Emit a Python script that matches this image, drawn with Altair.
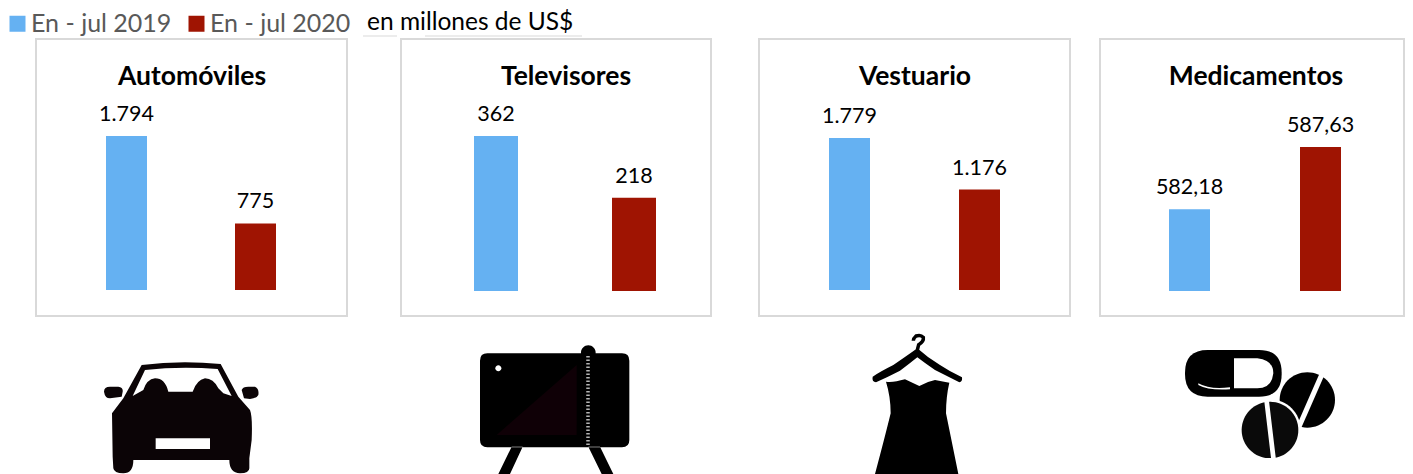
import altair as alt
import pandas as pd

PERIODS = ["En - jul 2019", "En - jul 2020"]
COLORS = ["#65B1F2", "#9F1402"]
FONT = "Lato"
FRAME = "#D9D9D9"

AUTO = [1794, 775]
AUTO_LABELS = ["1.794", "775"]
TV = [362, 218]
TV_LABELS = ["362", "218"]
ROPA = [1779, 1176]
ROPA_LABELS = ["1.779", "1.176"]
MED = [582.18, 587.63]
MED_LABELS = ["582,18", "587,63"]

ONE = alt.Data(values=[{"k": 0}])


def rrect(x0, y0, x1, y1, r):
    return (f"M{x0+r},{y0} L{x1-r},{y0} Q{x1},{y0} {x1},{y0+r} L{x1},{y1-r} Q{x1},{y1} {x1-r},{y1} "
            f"L{x0+r},{y1} Q{x0},{y1} {x0},{y1-r} L{x0},{y0+r} Q{x0},{y0} {x0+r},{y0} Z")


def circle(cx, cy, r):
    k = 0.5523 * r
    return (f"M{cx-r},{cy} C{cx-r},{cy-k} {cx-k},{cy-r} {cx},{cy-r} C{cx+k},{cy-r} {cx+r},{cy-k} {cx+r},{cy} "
            f"C{cx+r},{cy+k} {cx+k},{cy+r} {cx},{cy+r} C{cx-k},{cy+r} {cx-r},{cy+k} {cx-r},{cy} Z")


CAR_BODY = ("M66,250 L100,205 L155,105 Q270,90 392,102 L445,200 L480,240 Q488,260 485,330 L478,385 L478,415 "
            "Q478,430 450,430 Q418,428 418,390 L130,390 Q130,430 100,430 Q72,430 70,415 L68,380 Z "
            "M42,185 Q42,170 60,170 L85,170 Q100,172 98,185 L95,200 L60,205 Q45,205 42,185 Z "
            "M455,180 Q458,170 475,170 L495,170 Q508,175 505,195 Q500,205 480,207 L462,205 Z")
CAR_GLASS = ("M165,120 Q270,108 383,117 L425,198 L400,190 L385,175 Q370,145 345,145 Q320,150 308,185 L235,185 "
             "Q225,145 195,145 Q170,148 160,180 L128,198 Z")
CAR_PLATE = "M197,325 L360,325 L360,357 L197,357 Z"

TV_BODY = (rrect(30, 70, 478, 352, 22) + " " + circle(355, 68, 22) +
           " M125,350 L85,432 L120,432 L158,350 Z M355,350 L395,432 L430,432 L390,350 Z")
TV_DOT = circle(85, 115, 9)
TV_SHADE = "M80,315 L320,105 L320,315 Z"

DRESS = ("M172,55 Q130,85 100,105 Q60,125 38,140 Q35,155 48,157 Q85,140 120,122 Q150,100 172,82 "
         "Q195,100 225,120 Q265,140 298,157 Q308,155 306,142 Q270,125 240,105 Q205,85 172,55 Z "
         "M78,155 Q100,158 135,148 Q160,160 178,168 Q200,155 225,150 Q250,155 268,158 Q258,200 258,250 "
         "L295,432 L45,432 Q75,320 92,250 Q92,200 78,155 Z")
HOOK = "M172,60 L176,44 Q192,35 190,22 Q182,13 168,18 Q160,25 160,32"

CAPSULE = rrect(45, 30, 335, 170, 68)
CAPSULE_LIGHT = ("M192,55 L262,55 Q310,60 310,100 Q305,145 262,145 L192,145 Z "
                 "M85,130 Q120,150 180,142 L180,148 Q115,152 85,135 Z")
TAB_A = circle(412, 180, 83)
TAB_A_CUT = "M449,100 L463,106 L392,268 L378,262 Z"
TAB_B_HALO = circle(300, 270, 92)
TAB_B = circle(300, 270, 85)
TAB_B_CUT = "M283,185 L297,183 L318,360 L304,362 Z M200,354 L400,354 L400,380 L200,380 Z"


def glyph(path, ox, oy, fill=None, stroke=None, width=0):
    kw = dict(shape=path, size=4 / 9, opacity=1, clip=True, strokeWidth=width)
    if fill:
        kw.update(filled=True, fill=fill)
    else:
        kw.update(filled=False, stroke=stroke)
    return alt.Chart(ONE).mark_point(**kw).encode(x=alt.value(ox - 8), y=alt.value(oy - 317))


legend = alt.Legend(orient="none", legendX=0, legendY=3, direction="horizontal", title=None, columns=2,
                    symbolType="square", symbolSize=256, symbolStrokeWidth=0, symbolOffset=-3,
                    labelFont=FONT, labelFontSize=25,
                    labelColor="#595959", labelOffset=1, columnPadding=15)


def panel(title, values, labels, width, title_x, xrange, bw, ydomain, yrange):
    df = pd.DataFrame({"p": PERIODS, "v": values, "t": labels})
    pi = 1 - bw / (xrange[1] - xrange[0] - bw)
    x = alt.X("p:N", axis=None, sort=PERIODS,
              scale=alt.Scale(range=xrange, paddingInner=pi, paddingOuter=0))
    y = alt.Y("v:Q", axis=None, scale=alt.Scale(domain=ydomain, range=yrange))
    bars = alt.Chart(df).mark_bar().encode(
        x=x, y=y, y2=alt.Y2(datum=ydomain[0]),
        color=alt.Color("p:N", sort=PERIODS, scale=alt.Scale(domain=PERIODS, range=COLORS), legend=legend))
    text = alt.Chart(df).mark_text(font=FONT, fontSize=21.5, dy=-21, color="#000000").encode(x=x, y=y, text="t:N")
    head = alt.Chart(alt.Data(values=[{"t": title}])).mark_text(
        font=FONT, fontSize=26.5, fontWeight="bold", color="#000000").encode(
        x=alt.value(title_x), y=alt.value(38), text="t:N")
    return (bars + text + head).properties(width=width, height=277,
                                           view=alt.ViewConfig(stroke=FRAME, strokeWidth=2, fill="white"))


def blank(w, h):
    return alt.Chart(ONE).mark_point(opacity=0).encode(x=alt.value(w / 2), y=alt.value(h / 2)).properties(
        width=w, height=h, view=alt.ViewConfig(stroke=None))


p1 = panel("Automóviles", AUTO, AUTO_LABELS, 311, 156, [70, 240], 41, [0, 1794], [251, 97])
p2 = panel("Televisores", TV, TV_LABELS, 310, 165, [73, 255], 44, [0, 362], [252, 97])
p3 = panel("Vestuario", ROPA, ROPA_LABELS, 311, 156, [70, 241], 41, [0, 1779], [251, 99])
p4 = panel("Medicamentos", MED, MED_LABELS, 304, 156, [69, 241], 41, [575, 587.63], [252, 108])

top_text = alt.Chart(alt.Data(values=[{"t": "en millones de US$"}])).mark_text(
    font=FONT, fontSize=24.5, align="left", color="#000000").encode(
    x=alt.value(359), y=alt.value(15), text="t:N")
top_rule = alt.Chart(ONE).mark_rule(color="#D9D9D9", strokeWidth=1).encode(
    x=alt.value(355), x2=alt.value(389), y=alt.value(28))
top_rule2 = alt.Chart(ONE).mark_rule(color="#D9D9D9", strokeWidth=1).encode(
    x=alt.value(417), x2=alt.value(574), y=alt.value(28))
top = (top_text + top_rule + top_rule2).properties(width=1397, height=30, view=alt.ViewConfig(stroke=None))

icons = alt.layer(
    glyph(CAR_BODY, 90, 330, fill="#0B0406"),
    glyph(CAR_GLASS, 90, 330, fill="#FFFFFF"),
    glyph(CAR_PLATE, 90, 330, fill="#FFFFFF"),
    glyph(TV_BODY, 470, 330, fill="#000000"),
    glyph(TV_SHADE, 470, 330, fill="#0F0006"),
    glyph(TV_DOT, 470, 330, fill="#FFFFFF"),
    alt.Chart(ONE).mark_rule(color="#B5B5B5", strokeWidth=3.5, strokeDash=[1.5, 2]).encode(
        x=alt.value(580), y=alt.value(39), y2=alt.value(129)),
    glyph(DRESS, 860, 330, fill="#000000"),
    glyph(HOOK, 860, 330, stroke="#000000", width=3.5),
    glyph(CAPSULE, 1170, 340, fill="#000000"),
    glyph(CAPSULE_LIGHT, 1170, 340, fill="#FFFFFF"),
    glyph(TAB_A, 1170, 340, fill="#000000"),
    glyph(TAB_A_CUT, 1170, 340, fill="#FFFFFF"),
    glyph(TAB_B_HALO, 1170, 340, fill="#FFFFFF"),
    glyph(TAB_B, 1170, 340, fill="#0A0A0A"),
    glyph(TAB_B_CUT, 1170, 340, fill="#FFFFFF"),
).properties(width=1397, height=157, view=alt.ViewConfig(stroke=None))

left = alt.hconcat(blank(27, 277), alt.hconcat(p1, p2, spacing=52), spacing=0)
right = alt.hconcat(p3, p4, spacing=28)
row = alt.hconcat(left, right, spacing=46)

chart = alt.vconcat(top, row, icons, spacing=0).properties(padding=0).configure_view(stroke=None).configure_concat(spacing=0)

chart.save("out.html", embed_options={"renderer": "svg", "actions": False})
